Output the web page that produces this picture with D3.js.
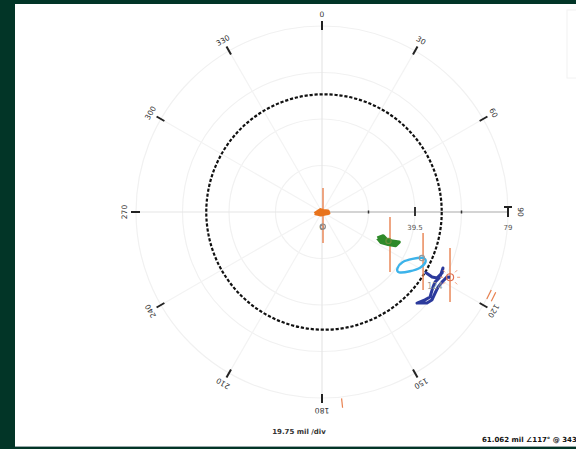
<!DOCTYPE html>
<html><head><meta charset="utf-8">
<script src="https://cdn.jsdelivr.net/npm/d3@7"></script>
<style>
html,body{margin:0;padding:0;background:#023527;}
svg{display:block;}
text{font-family:"DejaVu Sans",Verdana,sans-serif;}
</style></head>
<body>
<svg id="c" width="576" height="449"></svg>
<script>
// ---- data ----
const maxAmp = 79;                 // mil, full scale
const ampTicks = [0, 19.75, 39.5, 59.25, 79];
const ampTickLabels = ["0", "", "39.5", "", "79"];
const angleTicks = [0,30,60,90,120,150,180,210,240,270,300,330];
const angleLabels = ["0","30","60","90","120","150","180","210","240","270","300","330"];
const alarmRadius = 50;            // dashed circle, mil

const orangeAmp = [3.2, 1.2, 0.8, 2.6, 3.0, 1.4, 3.2];
const orangePh  = [258, 330, 30, 80, 100, 200, 258];

const greenAmp = [26.0, 27.9, 29.5, 31.0, 35.2, 34.4, 31.3, 28.2, 26.0];
const greenPh  = [115.2, 111.2, 112.8, 113.0, 111.3, 114.6, 116.2, 117.3, 115.2];

const cyanAmp = [40.0, 40.3, 43.3, 47.0, 48.8, 47.9, 45.0, 41.6];
const cyanPh  = [126.8, 122.0, 117.4, 114.5, 115.6, 119.6, 124.0, 128.0];

const navyAmp = [50.6, 54.3, 56.3, 57.2, 56.6, 57.2, 56.5, 56.9, 58.4, 57.5, 55.9, 59.0, 59.8, 59.1, 58.7, 59.0, 59.8, 61.062];
const navyPh  = [120.2, 120.6, 119.9, 116.9, 114.8, 118.8, 121.8, 124.1, 128.2, 130.5, 133.8, 130.9, 128.7, 125.6, 122.9, 120.3, 117.5, 117];

const errAmp  = [1.55, 32.0, 47.8, 60.6];
const errPh   = [164, 115.5, 116.1, 116.2];
const errHalf = [11.7, 11.7, 12.1, 11.5];

const markerAmp = [6.2, 30.8, 46.7];
const markerPh  = [177, 113.5, 114.7];
const markerColor = ["#888", "#6a8f3a", "#999"];

const currentAmp = 61.062, currentPh = 117, currentRpm = 343;
const rpmLabelAmp = 57.5, rpmLabelPh = 123.5, rpmLabel = "124";
const outerMarkAmp = [80.2, 81.6], outerMarkPh = [116.3, 174];
const scaleText = "19.75 mil /div";

// ---- layout ----
const svg = d3.select("#c");
const cx = 322, cy = 212, R = 186;
svg.append("rect").attr("x",15).attr("y",4).attr("width",561).attr("height",442).attr("fill","#fff");
svg.append("rect").attr("x",15).attr("y",446).attr("width",561).attr("height",1).attr("fill","#9aa");
svg.append("rect").attr("x",567).attr("y",10).attr("width",12).attr("height",68).attr("fill","none").attr("stroke","#f2f2f2");

const r = d3.scaleLinear().domain([0, maxAmp]).range([0, R]);
const rad = d => d * Math.PI / 180;
const px = (a, p) => cx + r(a) * Math.sin(rad(p));
const py = (a, p) => cy - r(a) * Math.cos(rad(p));

const g = svg.append("g");
// rings
g.selectAll("circle.ring").data(ampTicks.slice(1)).join("circle")
  .attr("cx",cx).attr("cy",cy).attr("r",d=>r(d)).attr("fill","none").attr("stroke","#f1f1f1").attr("stroke-width",1.2);
// spokes
g.selectAll("line.spoke").data(angleTicks).join("line")
  .attr("x1",cx).attr("y1",cy).attr("x2",d=>px(maxAmp,d)).attr("y2",d=>py(maxAmp,d))
  .attr("stroke",d=>(d%90===0)?"#e6e6e6":"#f3f3f3").attr("stroke-width",1.2);
// angle ticks (90° is drawn by the amplitude axis end)
g.selectAll("line.at").data(angleTicks.filter(d=>d!==90)).join("line")
  .attr("x1",d=>cx + (R-4)*Math.sin(rad(d))).attr("y1",d=>cy - (R-4)*Math.cos(rad(d)))
  .attr("x2",d=>cx + (R+5)*Math.sin(rad(d))).attr("y2",d=>cy - (R+5)*Math.cos(rad(d)))
  .attr("stroke","#222").attr("stroke-width",2);
g.selectAll("text.al").data(angleTicks).join("text")
  .attr("transform",(d)=>`translate(${cx + (R+12)*Math.sin(rad(d))},${cy - (R+12)*Math.cos(rad(d))}) rotate(${d})`)
  .attr("text-anchor","middle").attr("dominant-baseline","central")
  .attr("font-size",7.5).attr("fill","#333").text((d,i)=>angleLabels[i]);

// radial amplitude axis along 90°
g.append("line").attr("x1",cx).attr("y1",cy).attr("x2",cx+R).attr("y2",cy).attr("stroke","#b5b5b5").attr("stroke-width",1.2);
g.selectAll("line.rt").data(ampTicks.slice(1,4)).join("line")
  .attr("x1",d=>cx+r(d)).attr("x2",d=>cx+r(d))
  .attr("y1",(d,i)=>cy-(i===1?5:1.5)).attr("y2",(d,i)=>cy+(i===1?4:1.5))
  .attr("stroke","#333").attr("stroke-width",(d,i)=>i===1?2:1.5);
g.append("line").attr("x1",cx+R-4).attr("x2",cx+R+4).attr("y1",cy-5).attr("y2",cy-5).attr("stroke","#222").attr("stroke-width",2);
g.append("line").attr("x1",cx+R).attr("x2",cx+R).attr("y1",cy-5).attr("y2",cy+5).attr("stroke","#222").attr("stroke-width",2);
g.selectAll("text.rl").data(ampTicks).join("text")
  .attr("x",d=>cx+r(d)).attr("y",cy+18).attr("text-anchor","middle")
  .attr("font-size",7).attr("fill","#555").text((d,i)=>ampTickLabels[i]);

// alarm circle
g.append("circle").attr("cx",cx+2).attr("cy",cy).attr("r",r(alarmRadius))
  .attr("fill","none").attr("stroke","#111").attr("stroke-width",2.2).attr("stroke-dasharray","3.2,1.8");

// error bars
const errC = "#e8804e";
errAmp.forEach((a,i)=>{
  const x = px(a, errPh[i]), y = py(a, errPh[i]), h = r(errHalf[i]);
  g.append("line").attr("x1",x).attr("x2",x).attr("y1",y-h).attr("y2",y+h).attr("stroke",errC).attr("stroke-width",1.4);
});

const line = (amps, phs, curve) => d3.line().x((d,i)=>px(amps[i],phs[i])).y((d,i)=>py(amps[i],phs[i])).curve(curve)(amps);

g.append("path").attr("d",line(greenAmp,greenPh,d3.curveLinear)).attr("fill","#2f8a2a").attr("stroke","#2f8a2a").attr("stroke-width",3.2).attr("stroke-linejoin","round");
g.append("path").attr("d",line(cyanAmp,cyanPh,d3.curveCardinalClosed)).attr("fill","none").attr("stroke","#3cb3ea").attr("stroke-width",2.4);
g.append("path").attr("d",line(navyAmp,navyPh,d3.curveLinear)).attr("fill","none").attr("stroke","#2c3a9c").attr("stroke-width",3).attr("stroke-linejoin","round");
g.append("path").attr("d",line(orangeAmp,orangePh,d3.curveLinear)).attr("fill","#e8731c").attr("stroke","#e8731c").attr("stroke-width",3).attr("stroke-linejoin","round");

// markers
markerAmp.forEach((a,i)=>{
  g.append("circle").attr("cx",px(a,markerPh[i])).attr("cy",py(a,markerPh[i])).attr("r",2.6)
    .attr("fill","none").attr("stroke",markerColor[i]).attr("stroke-width",1.2);
});

// current point
const ccx = px(currentAmp,currentPh), ccy = py(currentAmp,currentPh);
g.append("circle").attr("cx",ccx).attr("cy",ccy).attr("r",3.5).attr("fill","none").attr("stroke","#e07050").attr("stroke-width",1.2);
d3.range(0,360,45).forEach(t=>{
  g.append("line").attr("x1",ccx+7*Math.sin(rad(t))).attr("y1",ccy-7*Math.cos(rad(t)))
   .attr("x2",ccx+10*Math.sin(rad(t))).attr("y2",ccy-10*Math.cos(rad(t)))
   .attr("stroke","#f0a080").attr("stroke-width",1);
});
g.append("text").attr("x",px(rpmLabelAmp,rpmLabelPh)).attr("y",py(rpmLabelAmp,rpmLabelPh)).attr("text-anchor","middle")
  .attr("dominant-baseline","central").attr("font-size",8).attr("fill","#999").text(rpmLabel);

// outer markers
{
  const a = outerMarkAmp[0], p = outerMarkPh[0];
  [-2.5, 2.5].forEach(o=>{
    const x = px(a,p) + o*Math.sin(rad(p)), y = py(a,p) - o*Math.cos(rad(p));
    const tx = Math.cos(rad(p)), ty = Math.sin(rad(p));
    g.append("line").attr("x1",x-5*tx).attr("y1",y-5*ty).attr("x2",x+5*tx).attr("y2",y+5*ty)
      .attr("stroke","#e8804e").attr("stroke-width",1.2);
  });
  const a2 = outerMarkAmp[1], p2 = outerMarkPh[1];
  g.append("line").attr("x1",px(a2-2,p2)).attr("y1",py(a2-2,p2)).attr("x2",px(a2+2,p2)).attr("y2",py(a2+2,p2))
    .attr("stroke","#e8804e").attr("stroke-width",1.2);
}

// texts
svg.append("text").attr("x",299).attr("y",434).attr("text-anchor","middle").attr("font-size",7).attr("font-weight","bold").attr("fill","#333").text(scaleText);
svg.append("text").attr("x",482).attr("y",442).attr("font-size",7).attr("font-weight","bold").attr("fill","#111")
  .text(`${currentAmp.toFixed(3)} mil ∠${currentPh}° @ ${currentRpm}`);
</script>
</body></html>
